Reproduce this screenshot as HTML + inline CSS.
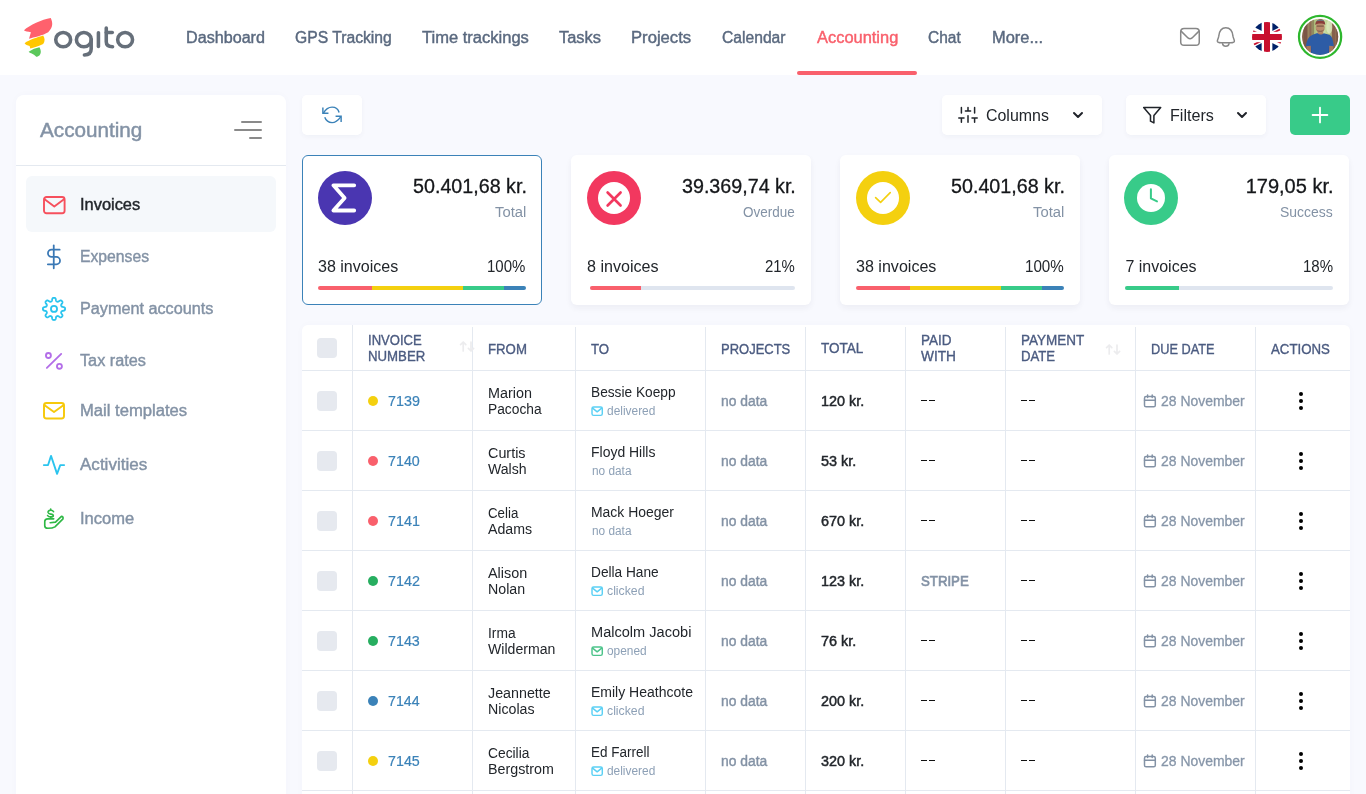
<!DOCTYPE html>
<html><head><meta charset="utf-8"><title>Accounting</title>
<style>
html,body{margin:0;padding:0}
body{width:1366px;height:794px;overflow:hidden;position:relative;background:#f8f9fe;font-family:"Liberation Sans",sans-serif}
#root{position:absolute;left:0;top:0;width:1366px;height:794px;will-change:transform}
.t{position:absolute;white-space:nowrap;transform-origin:0 0}
</style></head><body>
<div id="root">
<div style="position:absolute;left:0;top:0;width:1366px;height:75px;background:#fff"></div>
<svg style="position:absolute;left:18px;top:12px" width="44" height="50" viewBox="0 0 699 794">
<path fill="#ff616d" d="M95 290 C 180 210, 380 120, 520 95 C 555 170, 560 240, 480 320 C 400 370, 250 400, 175 425 L 205 320 C 160 315, 110 305, 95 290 Z"/>
<path fill="#ffc700" d="M105 495 C 180 440, 320 400, 400 375 C 430 420, 430 470, 400 510 C 330 545, 250 570, 195 580 L 185 540 C 150 530, 120 515, 105 495 Z"/>
<path fill="#5bc85b" d="M170 632 C 220 590, 290 570, 340 558 C 365 600, 375 650, 340 690 C 320 705, 305 712, 290 712 C 270 690, 240 665, 210 655 C 190 650, 175 642, 170 632 Z"/>
</svg>
<svg style="position:absolute;left:50px;top:20px" width="90" height="42" viewBox="0 0 1366 637" fill="none" stroke="#666f7a" stroke-width="54" stroke-linecap="round" stroke-linejoin="round">
<ellipse cx="200" cy="298" rx="113" ry="108"/>
<ellipse cx="514" cy="298" rx="113" ry="108"/>
<path d="M625 298 V 440 Q 625 528 522 530"/>
<path d="M735 195 V 403"/>
<path d="M854 120 V 330 Q 854 405 950 405"/>
<path d="M854 190 H 945"/>
<ellipse cx="1140" cy="298" rx="113" ry="108"/>
</svg>
<div class="t" style="left:186.28px;top:30px;font-size:16px;line-height:16px;color:#5a697f;transform:scaleX(1.0087);-webkit-text-stroke:0.42px #5a697f;">Dashboard</div>
<div class="t" style="left:294.92px;top:30px;font-size:16px;line-height:16px;color:#5a697f;transform:scaleX(0.9806);-webkit-text-stroke:0.42px #5a697f;">GPS Tracking</div>
<div class="t" style="left:422.14px;top:30px;font-size:16px;line-height:16px;color:#5a697f;transform:scaleX(1.0332);-webkit-text-stroke:0.42px #5a697f;">Time trackings</div>
<div class="t" style="left:559.44px;top:30px;font-size:16px;line-height:16px;color:#5a697f;transform:scaleX(1.0258);-webkit-text-stroke:0.42px #5a697f;">Tasks</div>
<div class="t" style="left:631.24px;top:30px;font-size:16px;line-height:16px;color:#5a697f;transform:scaleX(1.0393);-webkit-text-stroke:0.42px #5a697f;">Projects</div>
<div class="t" style="left:722.32px;top:30px;font-size:16px;line-height:16px;color:#5a697f;transform:scaleX(0.9785);-webkit-text-stroke:0.42px #5a697f;">Calendar</div>
<div class="t" style="left:816.97px;top:30px;font-size:16px;line-height:16px;color:#f9606c;transform:scaleX(1.0267);-webkit-text-stroke:0.42px #f9606c;">Accounting</div>
<div class="t" style="left:928.23px;top:30px;font-size:16px;line-height:16px;color:#5a697f;transform:scaleX(0.9672);-webkit-text-stroke:0.42px #5a697f;">Chat</div>
<div class="t" style="left:991.85px;top:30px;font-size:16px;line-height:16px;color:#5a697f;transform:scaleX(1.0271);-webkit-text-stroke:0.42px #5a697f;">More...</div>
<div style="position:absolute;left:797px;top:71px;width:120px;height:4px;border-radius:2px;background:#f9606c"></div>
<svg style="position:absolute;left:1170px;top:12px" width="120" height="50" viewBox="0 0 1366 569" fill="none" stroke="#878787" stroke-width="17" stroke-linecap="round" stroke-linejoin="round">
<rect x="122" y="187" width="211" height="191" rx="38"/>
<path d="M126 218 L 205 295 Q 228 315 251 295 L 330 218"/>
<path d="M635 180 C 575 180 560 230 555 275 C 550 310 535 318 540 335 C 545 350 560 350 580 350 H 692 C 712 350 727 350 732 335 C 737 318 722 310 717 275 C 712 230 695 180 635 180 Z"/>
<path d="M598 360 C 605 400 665 400 672 360"/>
</svg>
<svg style="position:absolute;left:1252px;top:22px" width="30" height="30" viewBox="0 0 60 60">
<defs><clipPath id="fc"><circle cx="30" cy="30" r="30"/></clipPath></defs>
<g clip-path="url(#fc)">
<rect width="60" height="60" fill="#fff"/>
<path fill="#012169" d="M19.6 0 L19.6 17.8 L-16 0 Z M40.4 0 L40.4 17.8 L76 0 Z M19.6 60 L19.6 42.2 L-16 60 Z M40.4 60 L40.4 42.2 L76 60 Z"/>
<path fill="#c8102e" d="M-6 12 L20 25 L20 29.2 L-6 16.2 Z M66 12 L40 25 L40 20.8 L66 7.8 Z M-6 48 L20 35 L20 39.2 L-6 52.2 Z M66 48 L40 35 L40 30.8 L66 43.8 Z"/>
<rect x="19.6" y="0" width="20.8" height="60" fill="#fff"/>
<rect x="0" y="19.6" width="60" height="20.8" fill="#fff"/>
<rect x="24" y="0" width="12" height="60" fill="#c8102e"/>
<rect x="0" y="24" width="60" height="12" fill="#c8102e"/>
</g></svg>
<svg style="position:absolute;left:1290px;top:8px" width="60" height="60" viewBox="0 0 794 794">
<defs><clipPath id="ac"><circle cx="398" cy="382" r="240"/></clipPath>
<linearGradient id="bgg" x1="0" x2="1"><stop offset="0" stop-color="#8a6450"/><stop offset="0.2" stop-color="#9a8560"/><stop offset="0.34" stop-color="#a9bb78"/><stop offset="0.55" stop-color="#d3e6b0"/><stop offset="0.72" stop-color="#b9cf8e"/><stop offset="0.86" stop-color="#9a7a5c"/><stop offset="1" stop-color="#8a6450"/></linearGradient></defs>
<circle cx="398" cy="382" r="279" fill="none" stroke="#2db72d" stroke-width="30"/>
<g clip-path="url(#ac)">
<rect x="150" y="130" width="500" height="500" fill="url(#bgg)"/>
<rect x="178" y="130" width="52" height="500" fill="#7b5646"/>
<rect x="256" y="130" width="30" height="500" fill="#8e6a54"/>
<rect x="296" y="130" width="18" height="260" fill="#8a7a58"/>
<rect x="556" y="130" width="44" height="500" fill="#85604c"/>
<rect x="612" y="130" width="30" height="500" fill="#7b5646"/>
<ellipse cx="520" cy="250" rx="40" ry="90" fill="#e3f0c8" opacity=".7"/>
<path fill="#a8765a" d="M215 490 L275 480 L285 590 L225 600 Z M575 490 L520 480 L510 590 L565 600 Z"/>
<path fill="#b08462" d="M365 300 H 440 V 360 H 365 Z"/>
<path fill="#2d5ca6" d="M210 505 C 225 420 250 375 300 355 L 362 332 C 385 358 425 358 448 334 L 520 355 C 560 375 570 430 580 505 L 520 500 L 515 640 L 280 640 L 275 500 Z"/>
<path fill="#27529a" d="M280 500 L300 640 L280 640 Z M515 500 L500 640 L515 640 Z"/>
<ellipse cx="400" cy="258" rx="60" ry="72" fill="#b98c6c"/>
<path fill="#8f6a52" d="M345 270 C 355 335 445 335 455 270 C 440 310 360 310 345 270 Z"/>
<rect x="352" y="232" width="96" height="16" rx="6" fill="#6b4c3c" opacity=".75"/>
<path fill="#8a3d3a" d="M335 225 C 335 165 375 148 402 148 C 440 148 468 172 466 225 C 430 200 375 200 335 225 Z"/>
<path fill="#5a94a0" d="M350 178 C 362 146 442 146 455 178 C 425 160 382 160 350 178 Z"/>
</g></svg>
<div style="position:absolute;left:16px;top:95px;width:270px;height:720px;background:#fff;border-radius:8px;box-shadow:0 0 8px rgba(40,50,120,.025)"></div>
<div class="t" style="left:40.26px;top:120px;font-size:20px;line-height:20px;color:#8392a5;transform:scaleX(1.0344);-webkit-text-stroke:0.45px #8392a5;">Accounting</div>
<div style="position:absolute;left:241px;top:121px;width:21px;height:2px;background:#8a8a8a;border-radius:1px"></div>
<div style="position:absolute;left:234px;top:129px;width:28px;height:2px;background:#8a8a8a;border-radius:1px"></div>
<div style="position:absolute;left:249px;top:137px;width:13px;height:2px;background:#8a8a8a;border-radius:1px"></div>
<div style="position:absolute;left:16px;top:165px;width:270px;height:1px;background:#e4e9f0"></div>
<div style="position:absolute;left:26px;top:176px;width:250px;height:56px;background:#f5f8fb;border-radius:6px"></div>
<div class="t" style="left:79.50px;top:197px;font-size:16px;line-height:16px;color:#22262b;transform:scaleX(1.0256);-webkit-text-stroke:0.42px #22262b;">Invoices</div>
<div class="t" style="left:79.50px;top:249px;font-size:16px;line-height:16px;color:#8392a5;transform:scaleX(0.9828);-webkit-text-stroke:0.42px #8392a5;">Expenses</div>
<div class="t" style="left:79.50px;top:301px;font-size:16px;line-height:16px;color:#8392a5;transform:scaleX(1.0133);-webkit-text-stroke:0.42px #8392a5;">Payment accounts</div>
<div class="t" style="left:79.50px;top:353px;font-size:16px;line-height:16px;color:#8392a5;transform:scaleX(1.0150);-webkit-text-stroke:0.42px #8392a5;">Tax rates</div>
<div class="t" style="left:79.50px;top:403px;font-size:16px;line-height:16px;color:#8392a5;transform:scaleX(1.0383);-webkit-text-stroke:0.42px #8392a5;">Mail templates</div>
<div class="t" style="left:79.50px;top:457px;font-size:16px;line-height:16px;color:#8392a5;transform:scaleX(1.0649);-webkit-text-stroke:0.42px #8392a5;">Activities</div>
<div class="t" style="left:79.50px;top:511px;font-size:16px;line-height:16px;color:#8392a5;transform:scaleX(1.0336);-webkit-text-stroke:0.42px #8392a5;">Income</div>
<svg style="position:absolute;left:41.8px;top:194.9px" width="24.6" height="20.3" viewBox="-2 -2 24.6 20.3" fill="none" stroke="#f6505d" stroke-width="1.9" stroke-linecap="round" stroke-linejoin="round"><rect x="0" y="0" width="20.6" height="16.3" rx="2.5"/><path d="M0.6 2.28 L10.3 9.45 L20.0 2.28"/></svg>
<svg style="position:absolute;left:42px;top:401px" width="24" height="19.6" viewBox="-2 -2 24 19.6" fill="none" stroke="#f6c90c" stroke-width="1.95" stroke-linecap="round" stroke-linejoin="round"><rect x="0" y="0" width="20" height="15.6" rx="2.5"/><path d="M0.6 2.18 L10.0 9.05 L19.4 2.18"/></svg>
<svg style="position:absolute;left:36px;top:236px" width="40" height="94" viewBox="0 0 338 794" fill="none" stroke-linecap="round" stroke-linejoin="round">
<g stroke="#3a78b5" stroke-width="15"><path d="M150 80 V 273"/><path d="M200 115 H 132 A 31 31 0 0 0 132 177 H 172 A 31 31 0 0 1 172 239 H 100"/></g>
<g stroke="#29c4ee" stroke-width="14" id="gear"></g></svg>
<svg style="position:absolute;left:40px;top:295px" width="28" height="28" viewBox="40 295 28 28" fill="none" stroke="#29c4ee" stroke-width="1.8" stroke-linejoin="round">
<path d="M54.00 297.80 L54.22 297.81 L54.44 297.83 L54.65 297.86 L54.86 297.92 L55.07 298.01 L55.27 298.15 L55.46 298.36 L55.62 298.67 L55.75 299.09 L55.85 299.58 L55.94 300.07 L56.02 300.49 L56.11 300.81 L56.22 301.03 L56.34 301.19 L56.47 301.31 L56.60 301.40 L56.74 301.47 L56.88 301.54 L57.02 301.60 L57.17 301.66 L57.31 301.71 L57.47 301.75 L57.62 301.79 L57.80 301.80 L57.99 301.77 L58.23 301.69 L58.52 301.53 L58.87 301.29 L59.28 301.00 L59.70 300.73 L60.09 300.52 L60.42 300.42 L60.70 300.40 L60.94 300.44 L61.15 300.52 L61.35 300.63 L61.52 300.76 L61.69 300.90 L61.85 301.05 L62.00 301.21 L62.14 301.38 L62.27 301.55 L62.38 301.75 L62.46 301.96 L62.50 302.20 L62.48 302.48 L62.38 302.81 L62.17 303.20 L61.90 303.62 L61.61 304.03 L61.37 304.38 L61.21 304.67 L61.13 304.91 L61.10 305.10 L61.11 305.28 L61.15 305.43 L61.19 305.59 L61.24 305.73 L61.30 305.88 L61.36 306.02 L61.43 306.16 L61.50 306.30 L61.59 306.43 L61.71 306.56 L61.87 306.68 L62.09 306.79 L62.41 306.88 L62.83 306.96 L63.32 307.05 L63.81 307.15 L64.23 307.28 L64.54 307.44 L64.75 307.63 L64.89 307.83 L64.98 308.04 L65.04 308.25 L65.07 308.46 L65.09 308.68 L65.10 308.90 L65.09 309.12 L65.07 309.34 L65.04 309.55 L64.98 309.76 L64.89 309.97 L64.75 310.17 L64.54 310.36 L64.23 310.52 L63.81 310.65 L63.32 310.75 L62.83 310.84 L62.41 310.92 L62.09 311.01 L61.87 311.12 L61.71 311.24 L61.59 311.37 L61.50 311.50 L61.43 311.64 L61.36 311.78 L61.30 311.92 L61.24 312.07 L61.19 312.21 L61.15 312.37 L61.11 312.52 L61.10 312.70 L61.13 312.89 L61.21 313.13 L61.37 313.42 L61.61 313.77 L61.90 314.18 L62.17 314.60 L62.38 314.99 L62.48 315.32 L62.50 315.60 L62.46 315.84 L62.38 316.05 L62.27 316.25 L62.14 316.42 L62.00 316.59 L61.85 316.75 L61.69 316.90 L61.52 317.04 L61.35 317.17 L61.15 317.28 L60.94 317.36 L60.70 317.40 L60.42 317.38 L60.09 317.28 L59.70 317.07 L59.28 316.80 L58.87 316.51 L58.52 316.27 L58.23 316.11 L57.99 316.03 L57.80 316.00 L57.62 316.01 L57.47 316.05 L57.31 316.09 L57.17 316.14 L57.02 316.20 L56.88 316.26 L56.74 316.33 L56.60 316.40 L56.47 316.49 L56.34 316.61 L56.22 316.77 L56.11 316.99 L56.02 317.31 L55.94 317.73 L55.85 318.22 L55.75 318.71 L55.62 319.13 L55.46 319.44 L55.27 319.65 L55.07 319.79 L54.86 319.88 L54.65 319.94 L54.44 319.97 L54.22 319.99 L54.00 320.00 L53.78 319.99 L53.56 319.97 L53.35 319.94 L53.14 319.88 L52.93 319.79 L52.73 319.65 L52.54 319.44 L52.38 319.13 L52.25 318.71 L52.15 318.22 L52.06 317.73 L51.98 317.31 L51.89 316.99 L51.78 316.77 L51.66 316.61 L51.53 316.49 L51.40 316.40 L51.26 316.33 L51.12 316.26 L50.98 316.20 L50.83 316.14 L50.69 316.09 L50.53 316.05 L50.38 316.01 L50.20 316.00 L50.01 316.03 L49.77 316.11 L49.48 316.27 L49.13 316.51 L48.72 316.80 L48.30 317.07 L47.91 317.28 L47.58 317.38 L47.30 317.40 L47.06 317.36 L46.85 317.28 L46.65 317.17 L46.48 317.04 L46.31 316.90 L46.15 316.75 L46.00 316.59 L45.86 316.42 L45.73 316.25 L45.62 316.05 L45.54 315.84 L45.50 315.60 L45.52 315.32 L45.62 314.99 L45.83 314.60 L46.10 314.18 L46.39 313.77 L46.63 313.42 L46.79 313.13 L46.87 312.89 L46.90 312.70 L46.89 312.52 L46.85 312.37 L46.81 312.21 L46.76 312.07 L46.70 311.92 L46.64 311.78 L46.57 311.64 L46.50 311.50 L46.41 311.37 L46.29 311.24 L46.13 311.12 L45.91 311.01 L45.59 310.92 L45.17 310.84 L44.68 310.75 L44.19 310.65 L43.77 310.52 L43.46 310.36 L43.25 310.17 L43.11 309.97 L43.02 309.76 L42.96 309.55 L42.93 309.34 L42.91 309.12 L42.90 308.90 L42.91 308.68 L42.93 308.46 L42.96 308.25 L43.02 308.04 L43.11 307.83 L43.25 307.63 L43.46 307.44 L43.77 307.28 L44.19 307.15 L44.68 307.05 L45.17 306.96 L45.59 306.88 L45.91 306.79 L46.13 306.68 L46.29 306.56 L46.41 306.43 L46.50 306.30 L46.57 306.16 L46.64 306.02 L46.70 305.88 L46.76 305.73 L46.81 305.59 L46.85 305.43 L46.89 305.28 L46.90 305.10 L46.87 304.91 L46.79 304.67 L46.63 304.38 L46.39 304.03 L46.10 303.62 L45.83 303.20 L45.62 302.81 L45.52 302.48 L45.50 302.20 L45.54 301.96 L45.62 301.75 L45.73 301.55 L45.86 301.38 L46.00 301.21 L46.15 301.05 L46.31 300.90 L46.48 300.76 L46.65 300.63 L46.85 300.52 L47.06 300.44 L47.30 300.40 L47.58 300.42 L47.91 300.52 L48.30 300.73 L48.72 301.00 L49.13 301.29 L49.48 301.53 L49.77 301.69 L50.01 301.77 L50.20 301.80 L50.38 301.79 L50.53 301.75 L50.69 301.71 L50.83 301.66 L50.98 301.60 L51.12 301.54 L51.26 301.47 L51.40 301.40 L51.53 301.31 L51.66 301.19 L51.78 301.03 L51.89 300.81 L51.98 300.49 L52.06 300.07 L52.15 299.58 L52.25 299.09 L52.38 298.67 L52.54 298.36 L52.73 298.15 L52.93 298.01 L53.14 297.92 L53.35 297.86 L53.56 297.83 L53.78 297.81 Z"/><circle cx="54.0" cy="308.9" r="3.05"/></svg>
<svg style="position:absolute;left:36px;top:340px" width="40" height="94" viewBox="0 0 338 794" fill="none" stroke="#b36ee8" stroke-width="15.5" stroke-linecap="round">
<path d="M92 236 L 213 117"/><circle cx="105" cy="131" r="21"/><circle cx="198" cy="222" r="21"/></svg>
<svg style="position:absolute;left:36px;top:444px" width="40" height="94" viewBox="0 0 338 794" fill="none" stroke-linecap="round" stroke-linejoin="round">
<path stroke="#2bc4ee" stroke-width="15.5" d="M66 178 H 102 L 127 100 L 178 252 L 205 178 H 238"/>
<g stroke="#2eb845" stroke-width="14">
<path d="M120 665 L 165 660 L 215 612 Q 232 612 228 632 L 160 700 Q 140 712 100 712 Q 74 712 74 690 V 655 Q 74 632 100 632 H 150"/>
<path d="M148 572 Q 140 558 122 560 Q 100 563 102 578 Q 104 590 124 592 Q 146 594 146 606 Q 146 616 124 616 Q 104 616 98 604"/>
<path d="M124 550 V 560 M124 616 V 624"/></g></svg>
<div style="position:absolute;left:302px;top:95px;width:60px;height:40px;background:#fff;border-radius:5px;box-shadow:0 2px 5px rgba(28,39,80,.04);"></div>
<svg style="position:absolute;left:316px;top:100px" width="32" height="30" viewBox="0 0 847 794" fill="none" stroke="#3b82b8" stroke-width="38" stroke-linecap="butt" stroke-linejoin="miter">
<path d="M 196 345 C 260 235, 345 188, 425 188 C 520 188, 590 250, 612 330"/>
<path d="M 182 198 V 350 H 330"/>
<path d="M 232 458 C 262 540, 340 598, 425 598 C 515 598, 585 540, 655 445"/>
<path d="M 518 432 H 665 V 580"/></svg>
<div style="position:absolute;left:942px;top:95px;width:160px;height:40px;background:#fff;border-radius:5px;box-shadow:0 2px 5px rgba(28,39,80,.04);"></div>
<div style="position:absolute;left:1126px;top:95px;width:140px;height:40px;background:#fff;border-radius:5px;box-shadow:0 2px 5px rgba(28,39,80,.04);"></div>
<div style="position:absolute;left:1290px;top:95px;width:60px;height:40px;background:#38cb89;border-radius:5px"></div>
<svg style="position:absolute;left:1310px;top:105px" width="20" height="20" viewBox="0 0 20 20" stroke="#fff" stroke-width="1.8" stroke-linecap="round"><path d="M10 2.6 V17.4 M2.6 10 H17.4"/></svg>
<svg style="position:absolute;left:956px;top:104px" width="24" height="22" viewBox="956 104 24 22" fill="none" stroke="#20242a" stroke-width="1.5" stroke-linecap="round">
<path d="M961.4 107.6 V113 M961.4 118.1 V122.2 M958.8 118.1 H964 M968 107.6 V111.1 M965.4 111.1 H970.6 M968 115.8 V122.2 M974.6 107.6 V113 M974.6 118.1 V122.2 M972 118.1 H977.2"/></svg>
<div class="t" style="left:986.40px;top:108px;font-size:16px;line-height:16px;color:#22262b;transform:scaleX(0.9958);">Columns</div>
<div class="t" style="left:1170.18px;top:108px;font-size:16px;line-height:16px;color:#22262b;transform:scaleX(1.0081);">Filters</div>
<svg style="position:absolute;left:1070.8px;top:110.3px" width="14" height="10" viewBox="0 0 14 10" fill="none" stroke="#20242a" stroke-width="2" stroke-linecap="round" stroke-linejoin="round"><path d="M3 3 L7 7 L11 3"/></svg>
<svg style="position:absolute;left:1235.1px;top:110.3px" width="14" height="10" viewBox="0 0 14 10" fill="none" stroke="#20242a" stroke-width="2" stroke-linecap="round" stroke-linejoin="round"><path d="M3 3 L7 7 L11 3"/></svg>
<svg style="position:absolute;left:1141.9px;top:104.95px" width="20.4" height="20.4" viewBox="0 0 24 24" fill="none" stroke="#20242a" stroke-width="1.8" stroke-linecap="round" stroke-linejoin="round"><polygon points="22 3 2 3 10 12.46 10 19 14 21 14 12.46 22 3"/></svg>
<div style="position:absolute;left:302px;top:155px;width:240px;height:150px;box-sizing:border-box;background:#fff;border-radius:6px;box-shadow:0 3px 6px rgba(28,39,80,.055);border:1px solid #3b82b8;box-shadow:none;"></div>
<div style="position:absolute;left:571px;top:155px;width:240px;height:150px;box-sizing:border-box;background:#fff;border-radius:6px;box-shadow:0 3px 6px rgba(28,39,80,.055);"></div>
<div style="position:absolute;left:840px;top:155px;width:240px;height:150px;box-sizing:border-box;background:#fff;border-radius:6px;box-shadow:0 3px 6px rgba(28,39,80,.055);"></div>
<div style="position:absolute;left:1109px;top:155px;width:240px;height:150px;box-sizing:border-box;background:#fff;border-radius:6px;box-shadow:0 3px 6px rgba(28,39,80,.055);"></div>
<div style="position:absolute;left:318px;top:171px;width:54px;height:54px;border-radius:50%;background:#4a36b1"></div>
<svg style="position:absolute;left:318px;top:171px" width="54" height="54" viewBox="318 171 54 54" fill="none" stroke="#fff" stroke-width="3.8" stroke-linecap="round" stroke-linejoin="round"><path d="M354.2 185.3 H 333.4 L 344.6 197.9 L 333.4 210.5 H 354.2"/></svg>
<div style="position:absolute;left:587px;top:171px;width:54px;height:54px;border-radius:50%;background:#f2385f"></div><div style="position:absolute;left:598.0px;top:182.0px;width:32px;height:32px;border-radius:50%;background:#fff"></div>
<svg style="position:absolute;left:587px;top:171px" width="54" height="54" viewBox="587 171 54 54" stroke="#f2385f" stroke-width="2.6" stroke-linecap="round"><path d="M607.6 192.5 L620.6 205.5 M620.6 192.5 L607.6 205.5"/></svg>
<div style="position:absolute;left:856px;top:171px;width:54px;height:54px;border-radius:50%;background:#f4d00f"></div><div style="position:absolute;left:867.0px;top:182.0px;width:32px;height:32px;border-radius:50%;background:#fff"></div>
<svg style="position:absolute;left:856px;top:171px" width="54" height="54" viewBox="856 171 54 54" fill="none" stroke="#f4d00f" stroke-width="1.6" stroke-linecap="round" stroke-linejoin="round"><path d="M875.6 197.6 L880.6 202.4 L890.2 192.6"/></svg>
<div style="position:absolute;left:1124px;top:171px;width:54px;height:54px;border-radius:50%;background:#38cb89"></div><div style="position:absolute;left:1137.0px;top:184.0px;width:28px;height:28px;border-radius:50%;background:#fff"></div>
<svg style="position:absolute;left:1124px;top:171px" width="54" height="54" viewBox="1124 171 54 54" fill="none" stroke="#38cb89" stroke-width="2" stroke-linecap="round" stroke-linejoin="round"><path d="M1150.9 189.2 V 198.4 L 1157 201.4"/></svg>
<div class="t" style="left:412.91px;top:176px;font-size:20px;line-height:20px;color:#15171a;transform:scaleX(0.9848);-webkit-text-stroke:0.3px #15171a;">50.401,68 kr.</div>
<div class="t" style="left:494.67px;top:205px;font-size:14px;line-height:14px;color:#8392a5;transform:scaleX(1.0587);">Total</div>
<div class="t" style="left:318.49px;top:259px;font-size:16px;line-height:16px;color:#22262b;transform:scaleX(1.0030);">38 invoices</div>
<div class="t" style="left:487.26px;top:259px;font-size:16px;line-height:16px;color:#22262b;transform:scaleX(0.9378);">100%</div>
<div class="t" style="left:681.95px;top:176px;font-size:20px;line-height:20px;color:#15171a;transform:scaleX(0.9844);-webkit-text-stroke:0.3px #15171a;">39.369,74 kr.</div>
<div class="t" style="left:742.87px;top:205px;font-size:14px;line-height:14px;color:#8392a5;transform:scaleX(0.9634);">Overdue</div>
<div class="t" style="left:587.31px;top:259px;font-size:16px;line-height:16px;color:#22262b;transform:scaleX(1.0059);">8 invoices</div>
<div class="t" style="left:764.95px;top:259px;font-size:16px;line-height:16px;color:#22262b;transform:scaleX(0.9329);">21%</div>
<div class="t" style="left:950.91px;top:176px;font-size:20px;line-height:20px;color:#15171a;transform:scaleX(0.9848);-webkit-text-stroke:0.3px #15171a;">50.401,68 kr.</div>
<div class="t" style="left:1032.67px;top:205px;font-size:14px;line-height:14px;color:#8392a5;transform:scaleX(1.0587);">Total</div>
<div class="t" style="left:856.39px;top:259px;font-size:16px;line-height:16px;color:#22262b;transform:scaleX(1.0043);">38 invoices</div>
<div class="t" style="left:1025.05px;top:259px;font-size:16px;line-height:16px;color:#22262b;transform:scaleX(0.9480);">100%</div>
<div class="t" style="left:1245.68px;top:176px;font-size:20px;line-height:20px;color:#15171a;-webkit-text-stroke:0.3px #15171a;">179,05 kr.</div>
<div class="t" style="left:1280.17px;top:205px;font-size:14px;line-height:14px;color:#8392a5;transform:scaleX(0.9967);">Success</div>
<div class="t" style="left:1125.38px;top:259px;font-size:16px;line-height:16px;color:#22262b;">7 invoices</div>
<div class="t" style="left:1302.86px;top:259px;font-size:16px;line-height:16px;color:#22262b;transform:scaleX(0.9392);">18%</div>
<div style="position:absolute;left:318px;top:286px;width:208px;height:4px;border-radius:2px;overflow:hidden;display:flex"><div style="width:54px;height:4px;background:#f9606c"></div><div style="width:91px;height:4px;background:#f4d00f"></div><div style="width:41px;height:4px;background:#38cb89"></div><div style="width:22px;height:4px;background:#3b82b8"></div></div>
<div style="position:absolute;left:856px;top:286px;width:208px;height:4px;border-radius:2px;overflow:hidden;display:flex"><div style="width:54px;height:4px;background:#f9606c"></div><div style="width:91px;height:4px;background:#f4d00f"></div><div style="width:41px;height:4px;background:#38cb89"></div><div style="width:22px;height:4px;background:#3b82b8"></div></div>
<div style="position:absolute;left:590px;top:286px;width:205px;height:4px;border-radius:2px;background:#dfe5ef;overflow:hidden"><div style="width:51px;height:4px;background:#f9606c"></div></div>
<div style="position:absolute;left:1125px;top:286px;width:208px;height:4px;border-radius:2px;background:#dfe5ef;overflow:hidden"><div style="width:54px;height:4px;background:#38cb89"></div></div>
<div style="position:absolute;left:302px;top:325px;width:1048px;height:500px;background:#fff;border-radius:6px;box-shadow:0 0 8px rgba(40,50,120,.025)"></div>
<div style="position:absolute;left:352px;top:325px;width:1px;height:500px;background:#e4e9f0"></div>
<div style="position:absolute;left:472px;top:327px;width:1px;height:500px;background:#e4e9f0"></div>
<div style="position:absolute;left:575px;top:327px;width:1px;height:500px;background:#e4e9f0"></div>
<div style="position:absolute;left:705px;top:327px;width:1px;height:500px;background:#e4e9f0"></div>
<div style="position:absolute;left:805px;top:327px;width:1px;height:500px;background:#e4e9f0"></div>
<div style="position:absolute;left:905px;top:327px;width:1px;height:500px;background:#e4e9f0"></div>
<div style="position:absolute;left:1005px;top:327px;width:1px;height:500px;background:#e4e9f0"></div>
<div style="position:absolute;left:1135px;top:327px;width:1px;height:500px;background:#e4e9f0"></div>
<div style="position:absolute;left:1255px;top:327px;width:1px;height:500px;background:#e4e9f0"></div>
<div style="position:absolute;left:302px;top:370px;width:1048px;height:1px;background:#e4e9f0"></div>
<div style="position:absolute;left:302px;top:430px;width:1048px;height:1px;background:#e4e9f0"></div>
<div style="position:absolute;left:302px;top:490px;width:1048px;height:1px;background:#e4e9f0"></div>
<div style="position:absolute;left:302px;top:550px;width:1048px;height:1px;background:#e4e9f0"></div>
<div style="position:absolute;left:302px;top:610px;width:1048px;height:1px;background:#e4e9f0"></div>
<div style="position:absolute;left:302px;top:670px;width:1048px;height:1px;background:#e4e9f0"></div>
<div style="position:absolute;left:302px;top:730px;width:1048px;height:1px;background:#e4e9f0"></div>
<div style="position:absolute;left:302px;top:790px;width:1048px;height:1px;background:#e4e9f0"></div>
<div style="position:absolute;left:317px;top:338px;width:20px;height:20px;border-radius:4px;background:#e6e9ef"></div>
<div class="t" style="left:368.00px;top:333px;font-size:14px;line-height:14px;color:#4b5b80;transform:scaleX(0.9337);-webkit-text-stroke:0.35px #4b5b80;">INVOICE</div>
<div class="t" style="left:368.00px;top:349px;font-size:14px;line-height:14px;color:#4b5b80;transform:scaleX(0.9447);-webkit-text-stroke:0.35px #4b5b80;">NUMBER</div>
<div class="t" style="left:488.00px;top:342px;font-size:14px;line-height:14px;color:#4b5b80;transform:scaleX(0.9434);-webkit-text-stroke:0.35px #4b5b80;">FROM</div>
<div class="t" style="left:591.00px;top:342px;font-size:14px;line-height:14px;color:#4b5b80;transform:scaleX(0.9448);-webkit-text-stroke:0.35px #4b5b80;">TO</div>
<div class="t" style="left:721.00px;top:342px;font-size:14px;line-height:14px;color:#4b5b80;transform:scaleX(0.9278);-webkit-text-stroke:0.35px #4b5b80;">PROJECTS</div>
<div class="t" style="left:821.00px;top:341px;font-size:14px;line-height:14px;color:#4b5b80;transform:scaleX(0.9664);-webkit-text-stroke:0.35px #4b5b80;">TOTAL</div>
<div class="t" style="left:921.00px;top:333px;font-size:14px;line-height:14px;color:#4b5b80;transform:scaleX(0.9651);-webkit-text-stroke:0.35px #4b5b80;">PAID</div>
<div class="t" style="left:921.00px;top:349px;font-size:14px;line-height:14px;color:#4b5b80;transform:scaleX(0.9788);-webkit-text-stroke:0.35px #4b5b80;">WITH</div>
<div class="t" style="left:1021.00px;top:333px;font-size:14px;line-height:14px;color:#4b5b80;transform:scaleX(0.9635);-webkit-text-stroke:0.35px #4b5b80;">PAYMENT</div>
<div class="t" style="left:1021.00px;top:349px;font-size:14px;line-height:14px;color:#4b5b80;transform:scaleX(0.9408);-webkit-text-stroke:0.35px #4b5b80;">DATE</div>
<div class="t" style="left:1151.00px;top:342px;font-size:14px;line-height:14px;color:#4b5b80;transform:scaleX(0.9124);-webkit-text-stroke:0.35px #4b5b80;">DUE DATE</div>
<div class="t" style="left:1271.00px;top:342px;font-size:14px;line-height:14px;color:#4b5b80;transform:scaleX(0.9464);-webkit-text-stroke:0.35px #4b5b80;">ACTIONS</div>
<svg style="position:absolute;left:459px;top:341px" width="16" height="11" viewBox="0 0 16 11" fill="none" stroke="#ececee" stroke-width="1.7" stroke-linecap="round" stroke-linejoin="round"><path d="M4.2 10 V1 M1.6 3.6 L4.2 1 L6.8 3.6 M12 1 V10 M9.4 7.4 L12 10 L14.6 7.4"/></svg>
<svg style="position:absolute;left:1105.3px;top:344px" width="16" height="11" viewBox="0 0 16 11" fill="none" stroke="#ececee" stroke-width="1.7" stroke-linecap="round" stroke-linejoin="round"><path d="M4.2 10 V1 M1.6 3.6 L4.2 1 L6.8 3.6 M12 1 V10 M9.4 7.4 L12 10 L14.6 7.4"/></svg>
<div style="position:absolute;left:317px;top:391px;width:20px;height:20px;border-radius:4px;background:#e6e9ef"></div>
<div style="position:absolute;left:368px;top:396px;width:10px;height:10px;border-radius:50%;background:#f4d00f"></div>
<div class="t" style="left:388.00px;top:394px;font-size:14px;line-height:14px;color:#3b82b8;transform:scaleX(1.0237);-webkit-text-stroke:0.2px #3b82b8;">7139</div>
<div class="t" style="left:488.00px;top:386px;font-size:14px;line-height:14px;color:#22262b;transform:scaleX(1.0262);">Marion</div>
<div class="t" style="left:488.00px;top:402px;font-size:14px;line-height:14px;color:#22262b;transform:scaleX(0.9837);">Pacocha</div>
<div class="t" style="left:591.00px;top:385px;font-size:14px;line-height:14px;color:#22262b;transform:scaleX(0.9788);">Bessie Koepp</div>
<svg style="position:absolute;left:589.9px;top:404.7px" width="14.3" height="12.4" viewBox="-2 -2 14.3 12.4" fill="none" stroke="#5bd0f4" stroke-width="1.45" stroke-linecap="round" stroke-linejoin="round"><rect x="0" y="0" width="10.3" height="8.4" rx="1.6"/><path d="M0.6 1.18 L5.15 4.87 L9.700000000000001 1.18"/></svg>
<div class="t" style="left:607.30px;top:405px;font-size:12px;line-height:12px;color:#8da0b6;transform:scaleX(0.9932);">delivered</div>
<div class="t" style="left:721.00px;top:394px;font-size:14px;line-height:14px;color:#8392a5;transform:scaleX(0.9911);-webkit-text-stroke:0.4px #8392a5;">no data</div>
<div class="t" style="left:821.00px;top:394px;font-size:14px;line-height:14px;color:#22262b;transform:scaleX(1.0281);-webkit-text-stroke:0.45px #22262b;">120 kr.</div>
<div style="position:absolute;left:921px;top:400px;width:6px;height:1.3px;background:#111"></div><div style="position:absolute;left:929px;top:400px;width:6px;height:1.3px;background:#111"></div>
<div style="position:absolute;left:1021px;top:400px;width:6px;height:1.3px;background:#111"></div><div style="position:absolute;left:1029px;top:400px;width:6px;height:1.3px;background:#111"></div>
<svg style="position:absolute;left:1143px;top:394px" width="14" height="15" viewBox="0 0 14 15" fill="none" stroke="#8392a5" stroke-width="1.5" stroke-linecap="round" stroke-linejoin="round"><rect x="1.5" y="2.6" width="10.8" height="10.2" rx="1.6"/><path d="M1.5 6.2 H12.3 M4.6 1 V3.6 M9.2 1 V3.6"/></svg>
<div class="t" style="left:1161.00px;top:394px;font-size:14px;line-height:14px;color:#8796a9;transform:scaleX(0.9962);-webkit-text-stroke:0.3px #8796a9;">28 November</div>
<div style="position:absolute;left:1298.7px;top:392px;width:4px;height:4px;border-radius:50%;background:#000"></div>
<div style="position:absolute;left:1298.7px;top:399px;width:4px;height:4px;border-radius:50%;background:#000"></div>
<div style="position:absolute;left:1298.7px;top:406px;width:4px;height:4px;border-radius:50%;background:#000"></div>
<div style="position:absolute;left:317px;top:451px;width:20px;height:20px;border-radius:4px;background:#e6e9ef"></div>
<div style="position:absolute;left:368px;top:456px;width:10px;height:10px;border-radius:50%;background:#f9606c"></div>
<div class="t" style="left:388.00px;top:454px;font-size:14px;line-height:14px;color:#3b82b8;transform:scaleX(1.0195);-webkit-text-stroke:0.2px #3b82b8;">7140</div>
<div class="t" style="left:488.00px;top:446px;font-size:14px;line-height:14px;color:#22262b;transform:scaleX(1.0264);">Curtis</div>
<div class="t" style="left:488.00px;top:462px;font-size:14px;line-height:14px;color:#22262b;transform:scaleX(1.0059);">Walsh</div>
<div class="t" style="left:591.00px;top:445px;font-size:14px;line-height:14px;color:#22262b;transform:scaleX(0.9974);">Floyd Hills</div>
<div class="t" style="left:592.12px;top:465px;font-size:12px;line-height:12px;color:#8da0b6;transform:scaleX(0.9859);">no data</div>
<div class="t" style="left:721.00px;top:454px;font-size:14px;line-height:14px;color:#8392a5;transform:scaleX(0.9911);-webkit-text-stroke:0.4px #8392a5;">no data</div>
<div class="t" style="left:821.00px;top:454px;font-size:14px;line-height:14px;color:#22262b;transform:scaleX(1.0312);-webkit-text-stroke:0.45px #22262b;">53 kr.</div>
<div style="position:absolute;left:921px;top:460px;width:6px;height:1.3px;background:#111"></div><div style="position:absolute;left:929px;top:460px;width:6px;height:1.3px;background:#111"></div>
<div style="position:absolute;left:1021px;top:460px;width:6px;height:1.3px;background:#111"></div><div style="position:absolute;left:1029px;top:460px;width:6px;height:1.3px;background:#111"></div>
<svg style="position:absolute;left:1143px;top:454px" width="14" height="15" viewBox="0 0 14 15" fill="none" stroke="#8392a5" stroke-width="1.5" stroke-linecap="round" stroke-linejoin="round"><rect x="1.5" y="2.6" width="10.8" height="10.2" rx="1.6"/><path d="M1.5 6.2 H12.3 M4.6 1 V3.6 M9.2 1 V3.6"/></svg>
<div class="t" style="left:1161.00px;top:454px;font-size:14px;line-height:14px;color:#8796a9;transform:scaleX(0.9962);-webkit-text-stroke:0.3px #8796a9;">28 November</div>
<div style="position:absolute;left:1298.7px;top:452px;width:4px;height:4px;border-radius:50%;background:#000"></div>
<div style="position:absolute;left:1298.7px;top:459px;width:4px;height:4px;border-radius:50%;background:#000"></div>
<div style="position:absolute;left:1298.7px;top:466px;width:4px;height:4px;border-radius:50%;background:#000"></div>
<div style="position:absolute;left:317px;top:511px;width:20px;height:20px;border-radius:4px;background:#e6e9ef"></div>
<div style="position:absolute;left:368px;top:516px;width:10px;height:10px;border-radius:50%;background:#f9606c"></div>
<div class="t" style="left:388.00px;top:514px;font-size:14px;line-height:14px;color:#3b82b8;transform:scaleX(1.0242);-webkit-text-stroke:0.2px #3b82b8;">7141</div>
<div class="t" style="left:488.00px;top:506px;font-size:14px;line-height:14px;color:#22262b;transform:scaleX(0.9492);">Celia</div>
<div class="t" style="left:488.00px;top:522px;font-size:14px;line-height:14px;color:#22262b;transform:scaleX(1.0124);">Adams</div>
<div class="t" style="left:591.00px;top:505px;font-size:14px;line-height:14px;color:#22262b;transform:scaleX(0.9960);">Mack Hoeger</div>
<div class="t" style="left:592.12px;top:525px;font-size:12px;line-height:12px;color:#8da0b6;transform:scaleX(0.9859);">no data</div>
<div class="t" style="left:721.00px;top:514px;font-size:14px;line-height:14px;color:#8392a5;transform:scaleX(0.9911);-webkit-text-stroke:0.4px #8392a5;">no data</div>
<div class="t" style="left:821.00px;top:514px;font-size:14px;line-height:14px;color:#22262b;transform:scaleX(1.0281);-webkit-text-stroke:0.45px #22262b;">670 kr.</div>
<div style="position:absolute;left:921px;top:520px;width:6px;height:1.3px;background:#111"></div><div style="position:absolute;left:929px;top:520px;width:6px;height:1.3px;background:#111"></div>
<div style="position:absolute;left:1021px;top:520px;width:6px;height:1.3px;background:#111"></div><div style="position:absolute;left:1029px;top:520px;width:6px;height:1.3px;background:#111"></div>
<svg style="position:absolute;left:1143px;top:514px" width="14" height="15" viewBox="0 0 14 15" fill="none" stroke="#8392a5" stroke-width="1.5" stroke-linecap="round" stroke-linejoin="round"><rect x="1.5" y="2.6" width="10.8" height="10.2" rx="1.6"/><path d="M1.5 6.2 H12.3 M4.6 1 V3.6 M9.2 1 V3.6"/></svg>
<div class="t" style="left:1161.00px;top:514px;font-size:14px;line-height:14px;color:#8796a9;transform:scaleX(0.9962);-webkit-text-stroke:0.3px #8796a9;">28 November</div>
<div style="position:absolute;left:1298.7px;top:512px;width:4px;height:4px;border-radius:50%;background:#000"></div>
<div style="position:absolute;left:1298.7px;top:519px;width:4px;height:4px;border-radius:50%;background:#000"></div>
<div style="position:absolute;left:1298.7px;top:526px;width:4px;height:4px;border-radius:50%;background:#000"></div>
<div style="position:absolute;left:317px;top:571px;width:20px;height:20px;border-radius:4px;background:#e6e9ef"></div>
<div style="position:absolute;left:368px;top:576px;width:10px;height:10px;border-radius:50%;background:#27ae60"></div>
<div class="t" style="left:388.00px;top:574px;font-size:14px;line-height:14px;color:#3b82b8;transform:scaleX(1.0251);-webkit-text-stroke:0.2px #3b82b8;">7142</div>
<div class="t" style="left:488.00px;top:566px;font-size:14px;line-height:14px;color:#22262b;transform:scaleX(1.0285);">Alison</div>
<div class="t" style="left:488.00px;top:582px;font-size:14px;line-height:14px;color:#22262b;transform:scaleX(1.0144);">Nolan</div>
<div class="t" style="left:591.00px;top:565px;font-size:14px;line-height:14px;color:#22262b;transform:scaleX(0.9775);">Della Hane</div>
<svg style="position:absolute;left:589.9px;top:584.7px" width="14.3" height="12.4" viewBox="-2 -2 14.3 12.4" fill="none" stroke="#5bd0f4" stroke-width="1.45" stroke-linecap="round" stroke-linejoin="round"><rect x="0" y="0" width="10.3" height="8.4" rx="1.6"/><path d="M0.6 1.18 L5.15 4.87 L9.700000000000001 1.18"/></svg>
<div class="t" style="left:607.28px;top:585px;font-size:12px;line-height:12px;color:#8da0b6;transform:scaleX(1.0223);">clicked</div>
<div class="t" style="left:721.00px;top:574px;font-size:14px;line-height:14px;color:#8392a5;transform:scaleX(0.9911);-webkit-text-stroke:0.4px #8392a5;">no data</div>
<div class="t" style="left:821.00px;top:574px;font-size:14px;line-height:14px;color:#22262b;transform:scaleX(1.0281);-webkit-text-stroke:0.45px #22262b;">123 kr.</div>
<div class="t" style="left:921.00px;top:574px;font-size:14px;line-height:14px;color:#8392a5;transform:scaleX(0.9444);-webkit-text-stroke:0.65px #8392a5;">STRIPE</div>
<div style="position:absolute;left:1021px;top:580px;width:6px;height:1.3px;background:#111"></div><div style="position:absolute;left:1029px;top:580px;width:6px;height:1.3px;background:#111"></div>
<svg style="position:absolute;left:1143px;top:574px" width="14" height="15" viewBox="0 0 14 15" fill="none" stroke="#8392a5" stroke-width="1.5" stroke-linecap="round" stroke-linejoin="round"><rect x="1.5" y="2.6" width="10.8" height="10.2" rx="1.6"/><path d="M1.5 6.2 H12.3 M4.6 1 V3.6 M9.2 1 V3.6"/></svg>
<div class="t" style="left:1161.00px;top:574px;font-size:14px;line-height:14px;color:#8796a9;transform:scaleX(0.9962);-webkit-text-stroke:0.3px #8796a9;">28 November</div>
<div style="position:absolute;left:1298.7px;top:572px;width:4px;height:4px;border-radius:50%;background:#000"></div>
<div style="position:absolute;left:1298.7px;top:579px;width:4px;height:4px;border-radius:50%;background:#000"></div>
<div style="position:absolute;left:1298.7px;top:586px;width:4px;height:4px;border-radius:50%;background:#000"></div>
<div style="position:absolute;left:317px;top:631px;width:20px;height:20px;border-radius:4px;background:#e6e9ef"></div>
<div style="position:absolute;left:368px;top:636px;width:10px;height:10px;border-radius:50%;background:#27ae60"></div>
<div class="t" style="left:388.00px;top:634px;font-size:14px;line-height:14px;color:#3b82b8;transform:scaleX(1.0218);-webkit-text-stroke:0.2px #3b82b8;">7143</div>
<div class="t" style="left:488.00px;top:626px;font-size:14px;line-height:14px;color:#22262b;transform:scaleX(0.9852);">Irma</div>
<div class="t" style="left:488.00px;top:642px;font-size:14px;line-height:14px;color:#22262b;transform:scaleX(1.0059);">Wilderman</div>
<div class="t" style="left:591.00px;top:625px;font-size:14px;line-height:14px;color:#22262b;transform:scaleX(1.0404);">Malcolm Jacobi</div>
<svg style="position:absolute;left:589.9px;top:644.7px" width="14.3" height="12.4" viewBox="-2 -2 14.3 12.4" fill="none" stroke="#4cc38a" stroke-width="1.45" stroke-linecap="round" stroke-linejoin="round"><rect x="0" y="0" width="10.3" height="8.4" rx="1.6"/><path d="M0.6 1.18 L5.15 4.87 L9.700000000000001 1.18"/></svg>
<div class="t" style="left:607.30px;top:645px;font-size:12px;line-height:12px;color:#8da0b6;transform:scaleX(0.9904);">opened</div>
<div class="t" style="left:721.00px;top:634px;font-size:14px;line-height:14px;color:#8392a5;transform:scaleX(0.9911);-webkit-text-stroke:0.4px #8392a5;">no data</div>
<div class="t" style="left:821.00px;top:634px;font-size:14px;line-height:14px;color:#22262b;transform:scaleX(1.0312);-webkit-text-stroke:0.45px #22262b;">76 kr.</div>
<div style="position:absolute;left:921px;top:640px;width:6px;height:1.3px;background:#111"></div><div style="position:absolute;left:929px;top:640px;width:6px;height:1.3px;background:#111"></div>
<div style="position:absolute;left:1021px;top:640px;width:6px;height:1.3px;background:#111"></div><div style="position:absolute;left:1029px;top:640px;width:6px;height:1.3px;background:#111"></div>
<svg style="position:absolute;left:1143px;top:634px" width="14" height="15" viewBox="0 0 14 15" fill="none" stroke="#8392a5" stroke-width="1.5" stroke-linecap="round" stroke-linejoin="round"><rect x="1.5" y="2.6" width="10.8" height="10.2" rx="1.6"/><path d="M1.5 6.2 H12.3 M4.6 1 V3.6 M9.2 1 V3.6"/></svg>
<div class="t" style="left:1161.00px;top:634px;font-size:14px;line-height:14px;color:#8796a9;transform:scaleX(0.9962);-webkit-text-stroke:0.3px #8796a9;">28 November</div>
<div style="position:absolute;left:1298.7px;top:632px;width:4px;height:4px;border-radius:50%;background:#000"></div>
<div style="position:absolute;left:1298.7px;top:639px;width:4px;height:4px;border-radius:50%;background:#000"></div>
<div style="position:absolute;left:1298.7px;top:646px;width:4px;height:4px;border-radius:50%;background:#000"></div>
<div style="position:absolute;left:317px;top:691px;width:20px;height:20px;border-radius:4px;background:#e6e9ef"></div>
<div style="position:absolute;left:368px;top:696px;width:10px;height:10px;border-radius:50%;background:#3b82b8"></div>
<div class="t" style="left:388.00px;top:694px;font-size:14px;line-height:14px;color:#3b82b8;transform:scaleX(1.0153);-webkit-text-stroke:0.2px #3b82b8;">7144</div>
<div class="t" style="left:488.00px;top:686px;font-size:14px;line-height:14px;color:#22262b;transform:scaleX(1.0202);">Jeannette</div>
<div class="t" style="left:488.00px;top:702px;font-size:14px;line-height:14px;color:#22262b;transform:scaleX(1.0132);">Nicolas</div>
<div class="t" style="left:591.00px;top:685px;font-size:14px;line-height:14px;color:#22262b;">Emily Heathcote</div>
<svg style="position:absolute;left:589.9px;top:704.7px" width="14.3" height="12.4" viewBox="-2 -2 14.3 12.4" fill="none" stroke="#5bd0f4" stroke-width="1.45" stroke-linecap="round" stroke-linejoin="round"><rect x="0" y="0" width="10.3" height="8.4" rx="1.6"/><path d="M0.6 1.18 L5.15 4.87 L9.700000000000001 1.18"/></svg>
<div class="t" style="left:607.28px;top:705px;font-size:12px;line-height:12px;color:#8da0b6;transform:scaleX(1.0223);">clicked</div>
<div class="t" style="left:721.00px;top:694px;font-size:14px;line-height:14px;color:#8392a5;transform:scaleX(0.9911);-webkit-text-stroke:0.4px #8392a5;">no data</div>
<div class="t" style="left:821.00px;top:694px;font-size:14px;line-height:14px;color:#22262b;transform:scaleX(1.0281);-webkit-text-stroke:0.45px #22262b;">200 kr.</div>
<div style="position:absolute;left:921px;top:700px;width:6px;height:1.3px;background:#111"></div><div style="position:absolute;left:929px;top:700px;width:6px;height:1.3px;background:#111"></div>
<div style="position:absolute;left:1021px;top:700px;width:6px;height:1.3px;background:#111"></div><div style="position:absolute;left:1029px;top:700px;width:6px;height:1.3px;background:#111"></div>
<svg style="position:absolute;left:1143px;top:694px" width="14" height="15" viewBox="0 0 14 15" fill="none" stroke="#8392a5" stroke-width="1.5" stroke-linecap="round" stroke-linejoin="round"><rect x="1.5" y="2.6" width="10.8" height="10.2" rx="1.6"/><path d="M1.5 6.2 H12.3 M4.6 1 V3.6 M9.2 1 V3.6"/></svg>
<div class="t" style="left:1161.00px;top:694px;font-size:14px;line-height:14px;color:#8796a9;transform:scaleX(0.9962);-webkit-text-stroke:0.3px #8796a9;">28 November</div>
<div style="position:absolute;left:1298.7px;top:692px;width:4px;height:4px;border-radius:50%;background:#000"></div>
<div style="position:absolute;left:1298.7px;top:699px;width:4px;height:4px;border-radius:50%;background:#000"></div>
<div style="position:absolute;left:1298.7px;top:706px;width:4px;height:4px;border-radius:50%;background:#000"></div>
<div style="position:absolute;left:317px;top:751px;width:20px;height:20px;border-radius:4px;background:#e6e9ef"></div>
<div style="position:absolute;left:368px;top:756px;width:10px;height:10px;border-radius:50%;background:#f4d00f"></div>
<div class="t" style="left:388.00px;top:754px;font-size:14px;line-height:14px;color:#3b82b8;transform:scaleX(1.0209);-webkit-text-stroke:0.2px #3b82b8;">7145</div>
<div class="t" style="left:488.00px;top:746px;font-size:14px;line-height:14px;color:#22262b;transform:scaleX(0.9851);">Cecilia</div>
<div class="t" style="left:488.00px;top:762px;font-size:14px;line-height:14px;color:#22262b;transform:scaleX(1.0195);">Bergstrom</div>
<div class="t" style="left:591.00px;top:745px;font-size:14px;line-height:14px;color:#22262b;transform:scaleX(0.9640);">Ed Farrell</div>
<svg style="position:absolute;left:589.9px;top:764.7px" width="14.3" height="12.4" viewBox="-2 -2 14.3 12.4" fill="none" stroke="#5bd0f4" stroke-width="1.45" stroke-linecap="round" stroke-linejoin="round"><rect x="0" y="0" width="10.3" height="8.4" rx="1.6"/><path d="M0.6 1.18 L5.15 4.87 L9.700000000000001 1.18"/></svg>
<div class="t" style="left:607.30px;top:765px;font-size:12px;line-height:12px;color:#8da0b6;transform:scaleX(0.9911);">delivered</div>
<div class="t" style="left:721.00px;top:754px;font-size:14px;line-height:14px;color:#8392a5;transform:scaleX(0.9911);-webkit-text-stroke:0.4px #8392a5;">no data</div>
<div class="t" style="left:821.00px;top:754px;font-size:14px;line-height:14px;color:#22262b;transform:scaleX(1.0281);-webkit-text-stroke:0.45px #22262b;">320 kr.</div>
<div style="position:absolute;left:921px;top:760px;width:6px;height:1.3px;background:#111"></div><div style="position:absolute;left:929px;top:760px;width:6px;height:1.3px;background:#111"></div>
<div style="position:absolute;left:1021px;top:760px;width:6px;height:1.3px;background:#111"></div><div style="position:absolute;left:1029px;top:760px;width:6px;height:1.3px;background:#111"></div>
<svg style="position:absolute;left:1143px;top:754px" width="14" height="15" viewBox="0 0 14 15" fill="none" stroke="#8392a5" stroke-width="1.5" stroke-linecap="round" stroke-linejoin="round"><rect x="1.5" y="2.6" width="10.8" height="10.2" rx="1.6"/><path d="M1.5 6.2 H12.3 M4.6 1 V3.6 M9.2 1 V3.6"/></svg>
<div class="t" style="left:1161.00px;top:754px;font-size:14px;line-height:14px;color:#8796a9;transform:scaleX(0.9962);-webkit-text-stroke:0.3px #8796a9;">28 November</div>
<div style="position:absolute;left:1298.7px;top:752px;width:4px;height:4px;border-radius:50%;background:#000"></div>
<div style="position:absolute;left:1298.7px;top:759px;width:4px;height:4px;border-radius:50%;background:#000"></div>
<div style="position:absolute;left:1298.7px;top:766px;width:4px;height:4px;border-radius:50%;background:#000"></div>
</div></body></html>
